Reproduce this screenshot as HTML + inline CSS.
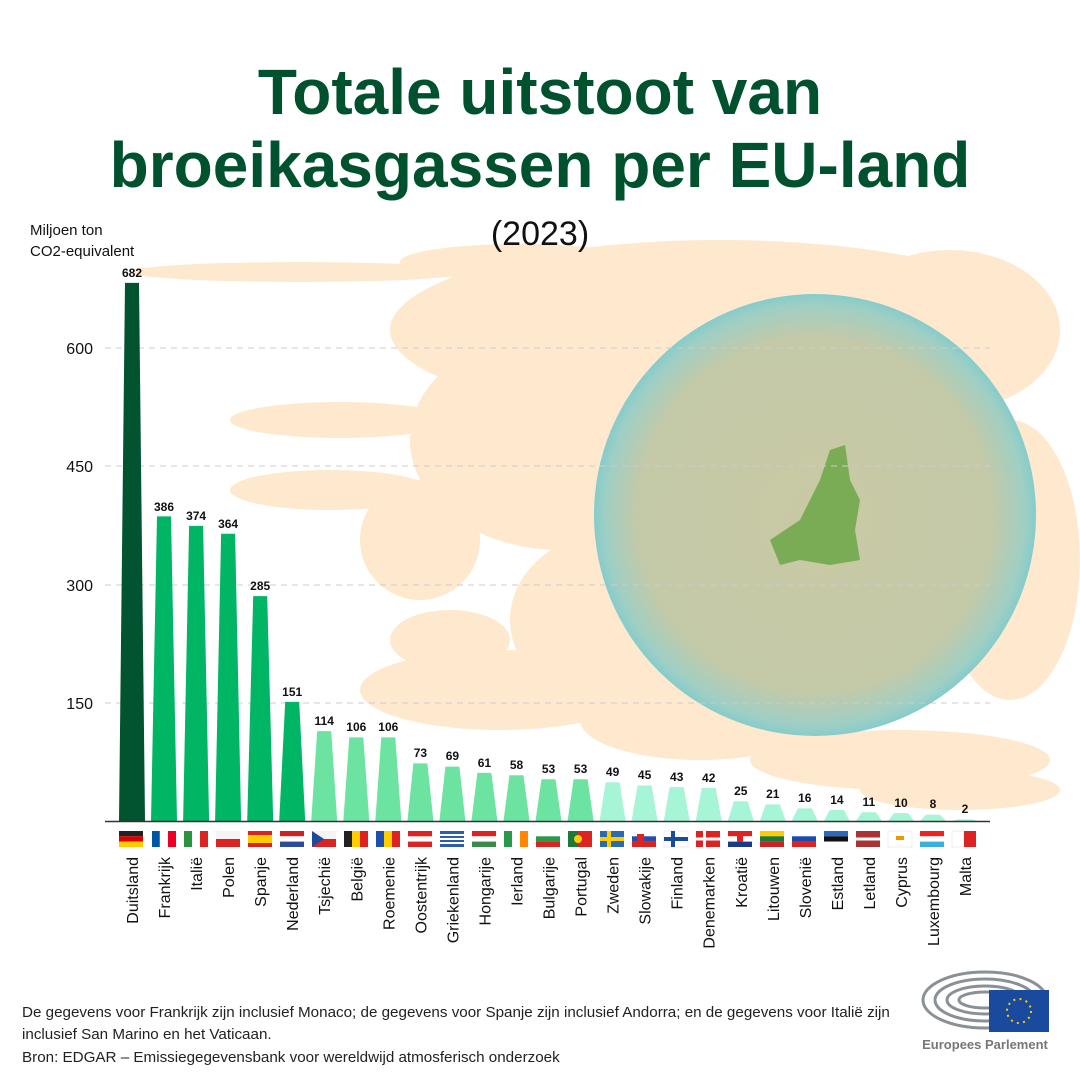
<!DOCTYPE html>
<html><head><meta charset="utf-8"><style>
body{margin:0;background:#fff}
svg{display:block;font-family:"Liberation Sans",sans-serif}
</style></head><body>
<svg width="1080" height="1080" viewBox="0 0 1080 1080" xmlns="http://www.w3.org/2000/svg">
<defs>
<radialGradient id="g" cx="50%" cy="50%" r="50%">
<stop offset="0" stop-color="#c9c9a4"/><stop offset="0.8" stop-color="#c4c9a8"/><stop offset="0.95" stop-color="#9fcfc4"/><stop offset="1" stop-color="#86cccb"/>
</radialGradient>
</defs>
<rect width="1080" height="1080" fill="#fff"/>
<g fill="#fee3c3" opacity="0.8">
<ellipse cx="300" cy="272" rx="170" ry="10"/>
<ellipse cx="520" cy="262" rx="120" ry="18"/>
<ellipse cx="720" cy="330" rx="330" ry="90"/>
<ellipse cx="560" cy="440" rx="150" ry="110"/>
<ellipse cx="950" cy="330" rx="110" ry="80"/>
<ellipse cx="1010" cy="560" rx="70" ry="140"/>
<ellipse cx="620" cy="620" rx="110" ry="90"/>
<ellipse cx="700" cy="720" rx="120" ry="40"/>
<ellipse cx="340" cy="420" rx="110" ry="18"/>
<ellipse cx="330" cy="490" rx="100" ry="20"/>
<ellipse cx="420" cy="540" rx="60" ry="60"/>
<ellipse cx="500" cy="690" rx="140" ry="40"/>
<ellipse cx="900" cy="760" rx="150" ry="30"/>
<ellipse cx="960" cy="790" rx="100" ry="20"/>
<ellipse cx="450" cy="640" rx="60" ry="30"/>
</g>
<circle cx="815" cy="515" r="221" fill="url(#g)"/>
<path d="M770 540 L800 520 L820 480 L830 450 L845 445 L850 480 L860 500 L855 530 L860 560 L830 565 L800 560 L780 565 Z" fill="#7aab55"/>
<g fill="#00522f" font-weight="bold" font-size="64" text-anchor="middle">
<text x="540" y="114">Totale uitstoot van</text>
<text x="540" y="187">broeikasgassen per EU-land</text>
</g>
<text x="540" y="245" font-size="34" text-anchor="middle" fill="#111">(2023)</text>
<text x="30" y="235" font-size="15" fill="#111">Miljoen ton</text>
<text x="30" y="256" font-size="15" fill="#111">CO2-equivalent</text>
<g stroke="#ccc" stroke-dasharray="6,5" stroke-width="1">
<line x1="105" y1="348" x2="990" y2="348"/><line x1="105" y1="466" x2="990" y2="466"/>
<line x1="105" y1="585" x2="990" y2="585"/><line x1="105" y1="703" x2="990" y2="703"/>
</g>
<g font-size="16" fill="#111" text-anchor="end">
<text x="93" y="354">600</text><text x="93" y="472">450</text><text x="93" y="591">300</text><text x="93" y="709">150</text>
</g>
<g>
<polygon transform="translate(132,0)" points="-7,282.9 7,282.9 13,821 -13,821" fill="#02532f"/>
<polygon transform="translate(164,0)" points="-7,516.4 7,516.4 13,821 -13,821" fill="#00b564"/>
<polygon transform="translate(196.1,0)" points="-7,525.9 7,525.9 13,821 -13,821" fill="#00b564"/>
<polygon transform="translate(228.1,0)" points="-7,533.8 7,533.8 13,821 -13,821" fill="#00b564"/>
<polygon transform="translate(260.2,0)" points="-7,596.1 7,596.1 13,821 -13,821" fill="#00b564"/>
<polygon transform="translate(292.2,0)" points="-7,701.9 7,701.9 13,821 -13,821" fill="#00b564"/>
<g fill="#6de3a2">
<polygon transform="translate(324.2,0)" points="-7,731.1 7,731.1 13,821 -13,821"/>
<polygon transform="translate(356.3,0)" points="-7,737.4 7,737.4 13,821 -13,821"/>
<polygon transform="translate(388.3,0)" points="-7,737.4 7,737.4 13,821 -13,821"/>
<polygon transform="translate(420.4,0)" points="-7,763.4 7,763.4 13,821 -13,821"/>
<polygon transform="translate(452.4,0)" points="-7,766.6 7,766.6 13,821 -13,821"/>
<polygon transform="translate(484.4,0)" points="-7,772.9 7,772.9 13,821 -13,821"/>
<polygon transform="translate(516.5,0)" points="-7,775.2 7,775.2 13,821 -13,821"/>
<polygon transform="translate(548.5,0)" points="-7,779.2 7,779.2 13,821 -13,821"/>
<polygon transform="translate(580.6,0)" points="-7,779.2 7,779.2 13,821 -13,821"/>
</g>
<g fill="#a6f5d6">
<polygon transform="translate(612.6,0)" points="-7,782.3 7,782.3 13,821 -13,821"/>
<polygon transform="translate(644.6,0)" points="-7,785.5 7,785.5 13,821 -13,821"/>
<polygon transform="translate(676.7,0)" points="-7,787.1 7,787.1 13,821 -13,821"/>
<polygon transform="translate(708.7,0)" points="-7,787.9 7,787.9 13,821 -13,821"/>
<polygon transform="translate(740.8,0)" points="-7,801.3 7,801.3 13,821 -13,821"/>
<polygon transform="translate(772.8,0)" points="-7,804.4 7,804.4 13,821 -13,821"/>
<polygon transform="translate(804.8,0)" points="-7,808.4 7,808.4 13,821 -13,821"/>
<polygon transform="translate(836.9,0)" points="-7,810 7,810 13,821 -13,821"/>
<polygon transform="translate(868.9,0)" points="-7,812.3 7,812.3 13,821 -13,821"/>
<polygon transform="translate(901,0)" points="-7,813.1 7,813.1 13,821 -13,821"/>
<polygon transform="translate(933,0)" points="-7,814.7 7,814.7 13,821 -13,821"/>
<polygon transform="translate(965,0)" points="-7,819.4 7,819.4 13,821 -13,821"/>
</g>
</g>
<line x1="105" y1="821.5" x2="990" y2="821.5" stroke="#333" stroke-width="1.5"/>
<g font-size="12" font-weight="bold" fill="#111" text-anchor="middle">
<text x="132" y="277">682</text><text x="164" y="511">386</text><text x="196.1" y="520">374</text><text x="228.1" y="528">364</text><text x="260.2" y="590">285</text><text x="292.2" y="696">151</text><text x="324.2" y="725">114</text><text x="356.3" y="731">106</text><text x="388.3" y="731">106</text><text x="420.4" y="757">73</text><text x="452.4" y="760">69</text><text x="484.4" y="767">61</text><text x="516.5" y="769">58</text><text x="548.5" y="773">53</text><text x="580.6" y="773">53</text><text x="612.6" y="776">49</text><text x="644.6" y="779">45</text><text x="676.7" y="781">43</text><text x="708.7" y="782">42</text><text x="740.8" y="795">25</text><text x="772.8" y="798">21</text><text x="804.8" y="802">16</text><text x="836.9" y="804">14</text><text x="868.9" y="806">11</text><text x="901" y="807">10</text><text x="933" y="808">8</text><text x="965" y="813">2</text>
</g>
<g>
<g transform="translate(119,831)"><rect width="24" height="5.3" fill="#222"/><rect y="5.3" width="24" height="5.3" fill="#d00"/><rect y="10.6" width="24" height="5.4" fill="#fc0"/></g>
<g transform="translate(152,831)"><rect width="8" height="16" fill="#0055a4"/><rect x="8" width="8" height="16" fill="#fff" stroke="#eee" stroke-width=".5"/><rect x="16" width="8" height="16" fill="#e02"/></g>
<g transform="translate(184,831)"><rect width="8" height="16" fill="#2a9440"/><rect x="8" width="8" height="16" fill="#fff"/><rect x="16" width="8" height="16" fill="#d22"/></g>
<g transform="translate(216,831)"><rect width="24" height="8" fill="#f4f4f4"/><rect y="8" width="24" height="8" fill="#d22"/></g>
<g transform="translate(248,831)"><rect width="24" height="16" fill="#d22"/><rect y="4" width="24" height="8" fill="#fc0"/></g>
<g transform="translate(280,831)"><rect width="24" height="5.3" fill="#c22"/><rect y="5.3" width="24" height="5.3" fill="#fff"/><rect y="10.6" width="24" height="5.4" fill="#2a4a9a"/></g>
<g transform="translate(312,831)"><rect width="24" height="8" fill="#f4f4f4"/><rect y="8" width="24" height="8" fill="#d22"/><polygon points="0,0 12,8 0,16" fill="#1c4a9a"/></g>
<g transform="translate(344,831)"><rect width="8" height="16" fill="#222"/><rect x="8" width="8" height="16" fill="#fc0"/><rect x="16" width="8" height="16" fill="#d22"/></g>
<g transform="translate(376,831)"><rect width="8" height="16" fill="#1c4fb0"/><rect x="8" width="8" height="16" fill="#fc0"/><rect x="16" width="8" height="16" fill="#d22"/></g>
<g transform="translate(408,831)"><rect width="24" height="16" fill="#d22"/><rect y="5.3" width="24" height="5.3" fill="#fff"/></g>
<g transform="translate(440,831)"><rect width="24" height="16" fill="#2a5fb0"/><rect y="3" width="24" height="2" fill="#fff"/><rect y="7" width="24" height="2" fill="#fff"/><rect y="11" width="24" height="2" fill="#fff"/></g>
<g transform="translate(472,831)"><rect width="24" height="5.3" fill="#d22"/><rect y="5.3" width="24" height="5.3" fill="#fff"/><rect y="10.6" width="24" height="5.4" fill="#3a8a4a"/></g>
<g transform="translate(504,831)"><rect width="8" height="16" fill="#2a9a4a"/><rect x="8" width="8" height="16" fill="#fff"/><rect x="16" width="8" height="16" fill="#f80"/></g>
<g transform="translate(536,831)"><rect width="24" height="5.3" fill="#fff"/><rect y="5.3" width="24" height="5.3" fill="#2a9a4a"/><rect y="10.6" width="24" height="5.4" fill="#d22"/></g>
<g transform="translate(568,831)"><rect width="24" height="16" fill="#d22"/><rect width="10" height="16" fill="#1a7a3a"/><circle cx="10" cy="8" r="4" fill="#fc0"/></g>
<g transform="translate(600,831)"><rect width="24" height="16" fill="#2a6ab0"/><rect x="7" width="4" height="16" fill="#fc0"/><rect y="6" width="24" height="4" fill="#fc0"/></g>
<g transform="translate(632,831)"><rect width="24" height="5.3" fill="#fff"/><rect y="5.3" width="24" height="5.3" fill="#2a4ab0"/><rect y="10.6" width="24" height="5.4" fill="#d22"/><rect x="5" y="3" width="7" height="10" fill="#d22"/></g>
<g transform="translate(664,831)"><rect width="24" height="16" fill="#fff" stroke="#ddd" stroke-width=".5"/><rect x="7" width="4" height="16" fill="#1a4a9a"/><rect y="6" width="24" height="4" fill="#1a4a9a"/></g>
<g transform="translate(696,831)"><rect width="24" height="16" fill="#d22"/><rect x="7" width="3" height="16" fill="#fff"/><rect y="6.5" width="24" height="3" fill="#fff"/></g>
<g transform="translate(728,831)"><rect width="24" height="5.3" fill="#d22"/><rect y="5.3" width="24" height="5.3" fill="#fff"/><rect y="10.6" width="24" height="5.4" fill="#1a3a8a"/><rect x="9" y="3" width="6" height="8" fill="#d22"/></g>
<g transform="translate(760,831)"><rect width="24" height="5.3" fill="#fc0"/><rect y="5.3" width="24" height="5.3" fill="#1a7a3a"/><rect y="10.6" width="24" height="5.4" fill="#c22"/></g>
<g transform="translate(792,831)"><rect width="24" height="5.3" fill="#fff"/><rect y="5.3" width="24" height="5.3" fill="#1a4ab0"/><rect y="10.6" width="24" height="5.4" fill="#d22"/></g>
<g transform="translate(824,831)"><rect width="24" height="5.3" fill="#2a6ac0"/><rect y="5.3" width="24" height="5.3" fill="#111"/><rect y="10.6" width="24" height="5.4" fill="#fff"/></g>
<g transform="translate(856,831)"><rect width="24" height="16" fill="#a33"/><rect y="6.5" width="24" height="3" fill="#fff"/></g>
<g transform="translate(888,831)"><rect width="24" height="16" fill="#fff" stroke="#ddd" stroke-width=".5"/><rect x="8" y="5" width="8" height="4" fill="#e90"/></g>
<g transform="translate(920,831)"><rect width="24" height="5.3" fill="#e22"/><rect y="5.3" width="24" height="5.3" fill="#fff"/><rect y="10.6" width="24" height="5.4" fill="#3ab0e0"/></g>
<g transform="translate(952,831)"><rect width="12" height="16" fill="#fff" stroke="#ddd" stroke-width=".5"/><rect x="12" width="12" height="16" fill="#d22"/></g>
</g>
<g font-size="16" fill="#111" text-anchor="end">
<text transform="translate(138,857) rotate(-90)">Duitsland</text>
<text transform="translate(170,857) rotate(-90)">Frankrijk</text>
<text transform="translate(202.1,857) rotate(-90)">Italië</text>
<text transform="translate(234.1,857) rotate(-90)">Polen</text>
<text transform="translate(266.2,857) rotate(-90)">Spanje</text>
<text transform="translate(298.2,857) rotate(-90)">Nederland</text>
<text transform="translate(330.2,857) rotate(-90)">Tsjechië</text>
<text transform="translate(362.3,857) rotate(-90)">België</text>
<text transform="translate(394.3,857) rotate(-90)">Roemenie</text>
<text transform="translate(426.4,857) rotate(-90)">Oostentrijk</text>
<text transform="translate(458.4,857) rotate(-90)">Griekenland</text>
<text transform="translate(490.4,857) rotate(-90)">Hongarije</text>
<text transform="translate(522.5,857) rotate(-90)">Ierland</text>
<text transform="translate(554.5,857) rotate(-90)">Bulgarije</text>
<text transform="translate(586.6,857) rotate(-90)">Portugal</text>
<text transform="translate(618.6,857) rotate(-90)">Zweden</text>
<text transform="translate(650.6,857) rotate(-90)">Slowakije</text>
<text transform="translate(682.7,857) rotate(-90)">Finland</text>
<text transform="translate(714.7,857) rotate(-90)">Denemarken</text>
<text transform="translate(746.8,857) rotate(-90)">Kroatië</text>
<text transform="translate(778.8,857) rotate(-90)">Litouwen</text>
<text transform="translate(810.8,857) rotate(-90)">Slovenië</text>
<text transform="translate(842.9,857) rotate(-90)">Estland</text>
<text transform="translate(874.9,857) rotate(-90)">Letland</text>
<text transform="translate(907,857) rotate(-90)">Cyprus</text>
<text transform="translate(939,857) rotate(-90)">Luxembourg</text>
<text transform="translate(971,857) rotate(-90)">Malta</text>
</g>
<g font-size="15.2" fill="#222">
<text x="22" y="1017">De gegevens voor Frankrijk zijn inclusief Monaco; de gegevens voor Spanje zijn inclusief Andorra; en de gegevens voor Italië zijn</text>
<text x="22" y="1039">inclusief San Marino en het Vaticaan.</text>
<text x="22" y="1062">Bron: EDGAR – Emissiegegevensbank voor wereldwijd atmosferisch onderzoek</text>
</g>
<g fill="none" stroke="#8a9196" stroke-width="3">
<ellipse cx="985" cy="1000" rx="62" ry="28"/>
<ellipse cx="985" cy="1000" rx="50" ry="21"/>
<ellipse cx="985" cy="1000" rx="38" ry="14"/>
<ellipse cx="985" cy="1000" rx="26" ry="8"/>
</g>
<rect x="989" y="990" width="60" height="42" fill="#1a4a9e"/>
<circle cx="1019" cy="1011" r="12" fill="none" stroke="#fc0" stroke-width="2" stroke-dasharray="2,4.3"/>
<text x="985" y="1049" font-size="13" font-weight="bold" fill="#777" text-anchor="middle">Europees Parlement</text>
</svg>
</body></html>
